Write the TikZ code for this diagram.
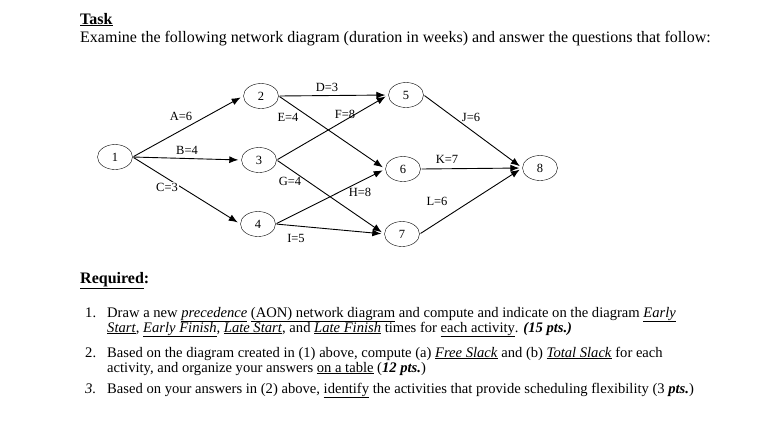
\documentclass[tikz,border=0pt]{standalone}
\usepackage{fontspec}
\setmainfont{Liberation Serif}
\usetikzlibrary{arrows.meta,shapes.geometric}
\newcommand{\ul}[1]{\underline{#1}}
\begin{document}
\begin{tikzpicture}[x=1pt,y=-1pt,
  ev/.style={draw,ellipse,minimum width=35pt,minimum height=25pt,inner sep=0pt,font=\fontsize{12.5}{13}\selectfont},
  ed/.style={draw,line width=0.9pt,-{Latex[length=9pt,width=7pt]},shorten >=3pt,shorten <=1pt},
  lb/.style={font=\fontsize{12.5}{13}\selectfont,inner sep=1pt},
  lbw/.style={lb,fill=white},
  tx/.style={anchor=base west,inner sep=0pt,font=\fontsize{16}{17}\selectfont},
  tl/.style={anchor=base west,inner sep=0pt,font=\fontsize{14.6}{16}\selectfont}]
\useasboundingbox (0,0) rectangle (778,440);
\node[tx,font=\fontsize{16}{17}\selectfont\bfseries] (task) at (80,24) {\ul{Task}};
\node[tx] (ex) at (80,42) {Examine the following network diagram (duration in weeks) and answer the questions that follow:};
\node[ev] (n1) at (115,157) {1};
\node[ev] (n2) at (261,96) {2};
\node[ev] (n3) at (259,160) {3};
\node[ev] (n4) at (258,224) {4};
\node[ev] (n5) at (406,95) {5};
\node[ev] (n6) at (403,169) {6};
\node[ev] (n7) at (402,234) {7};
\node[ev] (n8) at (540,168) {8};
\draw[ed] (n1.east) -- (n2.west);
\draw[ed] (n1.east) -- (n3.west);
\draw[ed] (n1.east) -- (n4.west);
\draw[ed] (n2.east) -- (n5.west);
\draw[ed] (n2.east) -- (n6.west);
\draw[ed] (n3.east) -- (n5.west);
\draw[ed] (n3.east) -- (n7.west);
\draw[ed] (n4.east) -- (n6.west);
\draw[ed] (n4.east) -- (n7.west);
\draw[ed] (n5.east) -- (n8.west);
\draw[ed] (n6.east) -- (n8.west);
\draw[ed] (n7.east) -- (n8.west);
\node[lb] (la) at (181,116) {A=6};
\node[lbw] (lbb) at (187,150) {B=4};
\node[lbw] (lc) at (167,187) {C=3};
\node[lb] (ld) at (327,87) {D=3};
\node[lb] (le) at (288,117) {E=4};
\node[lb] (lf) at (345,114) {F=8};
\node[lb] (lj) at (471,117) {J=6};
\node[lb] (lk) at (447,159) {K=7};
\node[lb] (lg) at (290,181) {G=4};
\node[lb] (lh) at (360,192) {H=8};
\node[lb] (ll) at (437,201) {L=6};
\node[lb] (li) at (296,238) {I=5};
\node[tx,font=\fontsize{16}{17}\selectfont\bfseries] (req) at (80,283) {\ul{Required}:};
\node[tl] (i1n) at (85,317) {1.};
\node[tl] (i1a) at (107,317) {Draw a new \ul{\textit{precedence}} \ul{(AON) network diagram} and compute and indicate on the diagram \ul{\textit{Early}}};
\node[tl] (i1b) at (107,332) {\ul{\textit{Start}}, \ul{\textit{Early Finish}}, \ul{\textit{Late Start}}, and \ul{\textit{Late Finish}} times for \ul{each activity}. \textbf{\textit{(15 pts.)}}};
\node[tl] (i2n) at (85,357) {2.};
\node[tl] (i2a) at (107,357) {Based on the diagram created in (1) above, compute (a) \ul{\textit{Free Slack}} and (b) \ul{\textit{Total Slack}} for each};
\node[tl] (i2b) at (107,372) {activity, and organize your answers \ul{on a table} (\textbf{\textit{12 pts.}})};
\node[tl] (i3n) at (85,393) {\textit{3.}};
\node[tl] (i3a) at (107,393) {Based on your answers in (2) above, \ul{identify} the activities that provide scheduling flexibility (3 \textbf{\textit{pts.}})};
\end{tikzpicture}
\end{document}
